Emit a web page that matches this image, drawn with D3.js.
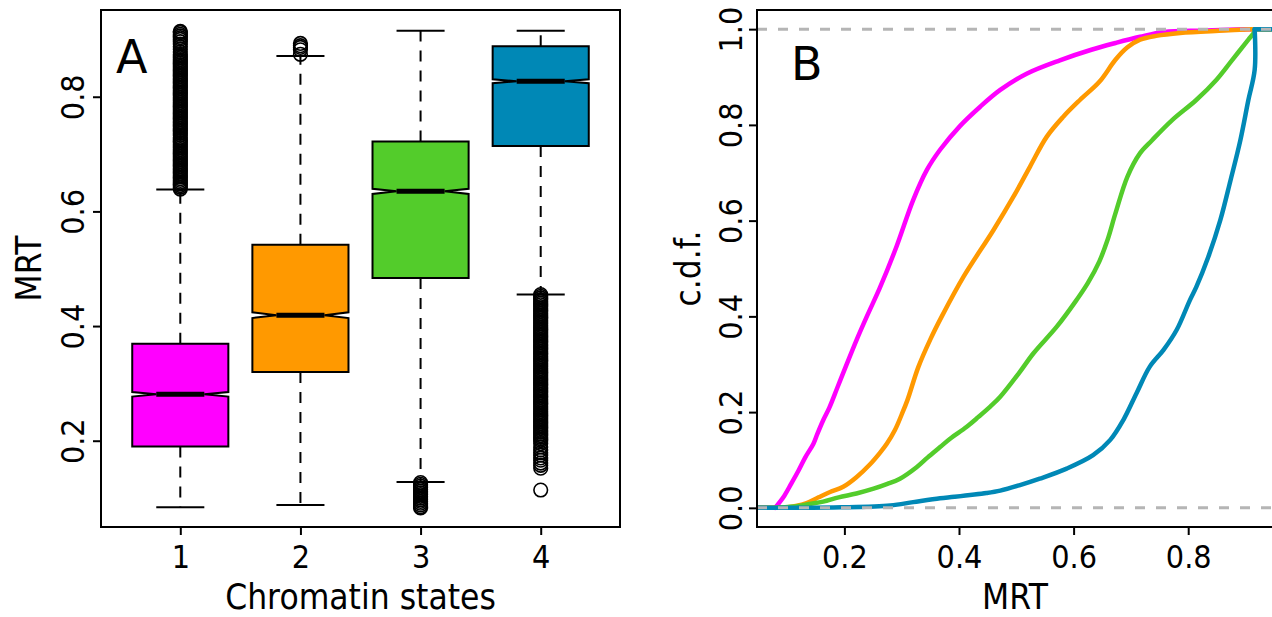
<!DOCTYPE html>
<html>
<head>
<meta charset="utf-8">
<script src="https://cdn.jsdelivr.net/npm/d3@7"></script>
<style>
  body { margin: 0; background: #fff; }
  svg text { font-family: "DejaVu Sans", sans-serif; fill: #000; }
</style>
</head>
<body>
<div id="chart"></div>
<script>
// values
var states = [1, 2, 3, 4];
var stateColors = ["#FF00FF", "#FF9900", "#53CC2B", "#0088B6"];

// panel A: notched boxplots of MRT per chromatin state
var whiskerLow = [0.084, 0.088, 0.128, 0.455];
var q1 = [0.190, 0.320, 0.484, 0.714];
var median = [0.281, 0.419, 0.635, 0.827];
var q3 = [0.369, 0.542, 0.722, 0.888];
var whiskerHigh = [0.638, 0.871, 0.915, 0.915];
var notchHalf = [0.004, 0.005, 0.0045, 0.0035];

var outliers1 = [0.639, 0.642, 0.645, 0.648, 0.651, 0.654, 0.657, 0.660, 0.663, 0.666, 0.669, 0.672, 0.675, 0.678,
  0.681, 0.684, 0.687, 0.690, 0.693, 0.696, 0.699, 0.702, 0.705, 0.708, 0.711, 0.714, 0.717, 0.720, 0.723, 0.726,
  0.729, 0.733, 0.736, 0.739, 0.742, 0.745, 0.748, 0.751, 0.754, 0.757, 0.760, 0.763, 0.766, 0.769, 0.772, 0.775,
  0.778, 0.781, 0.784, 0.787, 0.790, 0.793, 0.796, 0.799, 0.802, 0.805, 0.808, 0.811, 0.814, 0.817, 0.820, 0.823,
  0.826, 0.829, 0.832, 0.835, 0.838, 0.841, 0.844, 0.847, 0.850, 0.853, 0.856, 0.859, 0.862, 0.865, 0.868, 0.871,
  0.874, 0.878, 0.883, 0.887, 0.892, 0.896, 0.900, 0.903, 0.906, 0.909, 0.912, 0.914];
var outliers2 = [0.874, 0.882, 0.886, 0.889, 0.893];
var outliers3 = [0.127, 0.124, 0.121, 0.118, 0.115, 0.112, 0.109, 0.106, 0.103, 0.100, 0.097, 0.094, 0.091, 0.088,
  0.085, 0.083];
var outliers4 = [0.455, 0.452, 0.449, 0.446, 0.443, 0.440, 0.437, 0.434, 0.431, 0.428, 0.425, 0.422, 0.419, 0.416,
  0.413, 0.410, 0.407, 0.404, 0.401, 0.398, 0.395, 0.392, 0.389, 0.386, 0.383, 0.380, 0.377, 0.374, 0.371, 0.368,
  0.365, 0.362, 0.359, 0.356, 0.353, 0.350, 0.347, 0.344, 0.341, 0.338, 0.335, 0.332, 0.329, 0.326, 0.323, 0.320,
  0.317, 0.314, 0.311, 0.308, 0.305, 0.302, 0.299, 0.296, 0.293, 0.290, 0.287, 0.284, 0.281, 0.278, 0.275, 0.272,
  0.269, 0.266, 0.263, 0.260, 0.257, 0.254, 0.251, 0.248, 0.245, 0.242, 0.239, 0.236, 0.233, 0.230, 0.227, 0.224,
  0.221, 0.218, 0.215, 0.212, 0.209, 0.206, 0.203, 0.200, 0.195, 0.189, 0.184, 0.179, 0.175, 0.170, 0.166, 0.161,
  0.157, 0.152, 0.114];
var outliers = [outliers1, outliers2, outliers3, outliers4];

// panel B: empirical c.d.f. of MRT per state, [MRT, cdf]
var cdf1 = [[0.079, 0], [0.095, 0.025], [0.107, 0.050], [0.120, 0.078], [0.132, 0.106], [0.146, 0.134],
  [0.153, 0.155], [0.163, 0.183], [0.174, 0.210], [0.188, 0.252], [0.202, 0.294], [0.221, 0.350], [0.240, 0.402],
  [0.262, 0.460], [0.291, 0.546], [0.320, 0.643], [0.344, 0.706], [0.367, 0.748], [0.402, 0.798], [0.437, 0.838],
  [0.472, 0.873], [0.518, 0.907], [0.576, 0.935], [0.631, 0.957], [0.673, 0.971], [0.716, 0.984], [0.758, 0.994],
  [0.828, 0.997], [0.898, 1.0]];
var cdf2 = [[0.090, 0], [0.115, 0.004], [0.134, 0.010], [0.155, 0.022], [0.175, 0.033], [0.198, 0.044],
  [0.221, 0.064], [0.244, 0.090], [0.262, 0.115], [0.274, 0.134], [0.288, 0.162], [0.300, 0.195], [0.310, 0.225],
  [0.329, 0.294], [0.350, 0.352], [0.370, 0.400], [0.408, 0.483], [0.460, 0.580], [0.495, 0.650], [0.524, 0.713],
  [0.553, 0.775], [0.582, 0.817], [0.611, 0.852], [0.645, 0.890], [0.673, 0.936], [0.694, 0.962], [0.716, 0.978],
  [0.744, 0.986], [0.786, 0.992], [0.863, 0.997], [0.910, 1.0]];
var cdf3 = [[0.085, 0], [0.120, 0.004], [0.139, 0.008], [0.163, 0.013], [0.190, 0.022], [0.221, 0.030],
  [0.251, 0.040], [0.275, 0.050], [0.297, 0.061], [0.326, 0.085], [0.345, 0.105], [0.367, 0.127], [0.385, 0.145],
  [0.413, 0.169], [0.434, 0.190], [0.455, 0.212], [0.472, 0.232], [0.505, 0.282], [0.530, 0.323], [0.571, 0.379],
  [0.605, 0.434], [0.625, 0.470], [0.645, 0.515], [0.659, 0.559], [0.673, 0.615], [0.694, 0.692], [0.716, 0.741],
  [0.737, 0.768], [0.772, 0.810], [0.814, 0.852], [0.849, 0.894], [0.877, 0.936], [0.905, 0.978], [0.916, 0.995],
  [0.917, 1.0]];
var cdf4 = [[0.120, 0], [0.195, 0.001], [0.280, 0.005], [0.320, 0.012], [0.367, 0.020], [0.392, 0.023],
  [0.448, 0.031], [0.472, 0.036], [0.505, 0.047], [0.541, 0.061], [0.588, 0.082], [0.634, 0.110], [0.664, 0.142],
  [0.687, 0.184], [0.710, 0.240], [0.733, 0.295], [0.757, 0.330], [0.780, 0.372], [0.803, 0.434], [0.814, 0.461],
  [0.835, 0.524], [0.856, 0.601], [0.874, 0.685], [0.891, 0.768], [0.905, 0.852], [0.916, 0.915], [0.916, 1.0]];
var cdfs = [cdf1, cdf2, cdf3, cdf4];

var yTicksA = [0.2, 0.4, 0.6, 0.8];
var xTicksB = [0.2, 0.4, 0.6, 0.8];
var yTicksB = [0.0, 0.2, 0.4, 0.6, 0.8, 1.0];

var svg = d3.select("#chart")
  .append("svg")
  .attr("width", 1272)
  .attr("height", 617);

// ---------- panel A ----------
var xA = d3.scaleLinear().domain([0.34, 4.66]).range([101, 620]);
var yA = d3.scaleLinear().domain([0.0495, 0.9513]).range([527, 10]);
var panelA = svg.append("g");

function styleAxis(g) {
  g.attr("font-family", null).attr("font-size", null);
  g.select(".domain").remove();
  g.selectAll(".tick line").attr("stroke", "#000").attr("stroke-width", 2);
  g.selectAll(".tick text").attr("x", null).attr("y", null).attr("dy", null)
    .attr("text-anchor", "middle").attr("font-size", 32);
}

var axisAy = panelA.append("g")
  .attr("transform", "translate(101,0)")
  .call(d3.axisLeft(yA).tickValues(yTicksA).tickSize(8).tickFormat(d3.format(".1f")));
styleAxis(axisAy);
axisAy.selectAll(".tick text").attr("transform", "translate(-17,0) rotate(-90) scale(0.9,1)");

var axisAx = panelA.append("g")
  .attr("transform", "translate(0,527)")
  .call(d3.axisBottom(xA).tickValues(states).tickSize(8).tickFormat(d3.format("d")));
styleAxis(axisAx);
axisAx.selectAll(".tick text").attr("transform", "translate(0,41) scale(0.9,1)");

var halfW = xA(1.4) - xA(1);

states.forEach(function (s, i) {
  var cx = xA(s);
  var g = panelA.append("g");
  // dashed whiskers
  g.append("line").attr("x1", cx).attr("x2", cx).attr("y1", yA(q1[i])).attr("y2", yA(whiskerLow[i]))
    .attr("stroke", "#000").attr("stroke-width", 2).attr("stroke-dasharray", "11,9");
  g.append("line").attr("x1", cx).attr("x2", cx).attr("y1", yA(q3[i])).attr("y2", yA(whiskerHigh[i]))
    .attr("stroke", "#000").attr("stroke-width", 2).attr("stroke-dasharray", "11,9");
  // staples
  [whiskerLow[i], whiskerHigh[i]].forEach(function (v) {
    g.append("line").attr("x1", cx - halfW / 2).attr("x2", cx + halfW / 2)
      .attr("y1", yA(v)).attr("y2", yA(v))
      .attr("stroke", "#000").attr("stroke-width", 2);
  });
  // notched box
  var lo = median[i] - notchHalf[i], hi = median[i] + notchHalf[i];
  var pts = [
    [cx - halfW, yA(q1[i])], [cx + halfW, yA(q1[i])], [cx + halfW, yA(lo)], [cx + halfW / 2, yA(median[i])],
    [cx + halfW, yA(hi)], [cx + halfW, yA(q3[i])], [cx - halfW, yA(q3[i])], [cx - halfW, yA(hi)],
    [cx - halfW / 2, yA(median[i])], [cx - halfW, yA(lo)]
  ];
  g.append("polygon")
    .attr("points", pts.map(function (p) { return p.join(","); }).join(" "))
    .attr("fill", stateColors[i])
    .attr("stroke", "#000")
    .attr("stroke-width", 2)
    .attr("stroke-linejoin", "miter");
  g.append("line").attr("x1", cx - halfW / 2).attr("x2", cx + halfW / 2)
    .attr("y1", yA(median[i])).attr("y2", yA(median[i]))
    .attr("stroke", "#000").attr("stroke-width", 5);
  // outliers
  g.selectAll("circle")
    .data(outliers[i])
    .enter()
    .append("circle")
    .attr("cx", cx)
    .attr("cy", d => yA(d))
    .attr("r", 6.8)
    .attr("fill", "none")
    .attr("stroke", "#000")
    .attr("stroke-width", 1.6);
});

panelA.append("rect")
  .attr("x", 101).attr("y", 10).attr("width", 519).attr("height", 517)
  .attr("fill", "none").attr("stroke", "#000").attr("stroke-width", 2);

panelA.append("text")
  .attr("x", 116).attr("y", 73)
  .attr("font-size", 46)
  .text("A");

panelA.append("text")
  .attr("transform", "translate(360.5,609) scale(0.9,1)")
  .attr("text-anchor", "middle")
  .attr("font-size", 35)
  .text("Chromatin states");

panelA.append("text")
  .attr("transform", "translate(41,268.5) rotate(-90) scale(0.9,1)")
  .attr("text-anchor", "middle")
  .attr("font-size", 35)
  .text("MRT");

// ---------- panel B ----------
var xB = d3.scaleLinear().domain([0.0475, 0.9485]).range([757, 1273.3]);
var yB = d3.scaleLinear().domain([-0.04, 1.04]).range([527, 10]);
var panelB = svg.append("g");

svg.append("defs").append("clipPath").attr("id", "clipB")
  .append("rect").attr("x", 757).attr("y", 10).attr("width", 516.3).attr("height", 517);

var axisBy = panelB.append("g")
  .attr("transform", "translate(757,0)")
  .call(d3.axisLeft(yB).tickValues(yTicksB).tickSize(8).tickFormat(d3.format(".1f")));
styleAxis(axisBy);
axisBy.selectAll(".tick text").attr("transform", "translate(-15,0) rotate(-90) scale(0.9,1)");

var axisBx = panelB.append("g")
  .attr("transform", "translate(0,527)")
  .call(d3.axisBottom(xB).tickValues(xTicksB).tickSize(8).tickFormat(d3.format(".1f")));
styleAxis(axisBx);
axisBx.selectAll(".tick text").attr("transform", "translate(0,41) scale(0.9,1)");

var plotB = panelB.append("g").attr("clip-path", "url(#clipB)");
var smooth = d3.line().x(d => xB(d[0])).y(d => yB(d[1])).curve(d3.curveCatmullRom.alpha(0.5));
var straight = d3.line().x(d => xB(d[0])).y(d => yB(d[1]));

cdfs.forEach(function (c, i) {
  var g = plotB.append("g")
    .attr("fill", "none")
    .attr("stroke", stateColors[i])
    .attr("stroke-width", 4.5)
    .attr("stroke-linecap", "round")
    .attr("stroke-linejoin", "round");
  // ecdf tails run out to the plot edges
  g.append("path").attr("d", straight([[xB.domain()[0] - 0.1, 0], c[0]]));
  g.append("path").attr("d", smooth(c));
  g.append("path").attr("d", straight([c[c.length - 1], [xB.domain()[1] + 0.1, 1]]));
});

[0, 1].forEach(function (v) {
  plotB.append("line")
    .attr("x1", 757).attr("x2", 1273.3)
    .attr("y1", yB(v)).attr("y2", yB(v))
    .attr("stroke", "#b5b5b5")
    .attr("stroke-width", 3)
    .attr("stroke-dasharray", "10,11");
});

panelB.append("path")
  .attr("d", "M1273.3,10H757V527H1273.3Z")
  .attr("fill", "none").attr("stroke", "#000").attr("stroke-width", 2);

panelB.append("text")
  .attr("x", 791).attr("y", 80)
  .attr("font-size", 46)
  .text("B");

panelB.append("text")
  .attr("transform", "translate(1015,609) scale(0.9,1)")
  .attr("text-anchor", "middle")
  .attr("font-size", 35)
  .text("MRT");

panelB.append("text")
  .attr("transform", "translate(700,268.5) rotate(-90) scale(0.9,1)")
  .attr("text-anchor", "middle")
  .attr("font-size", 35)
  .text("c.d.f.");
</script>
</body>
</html>
